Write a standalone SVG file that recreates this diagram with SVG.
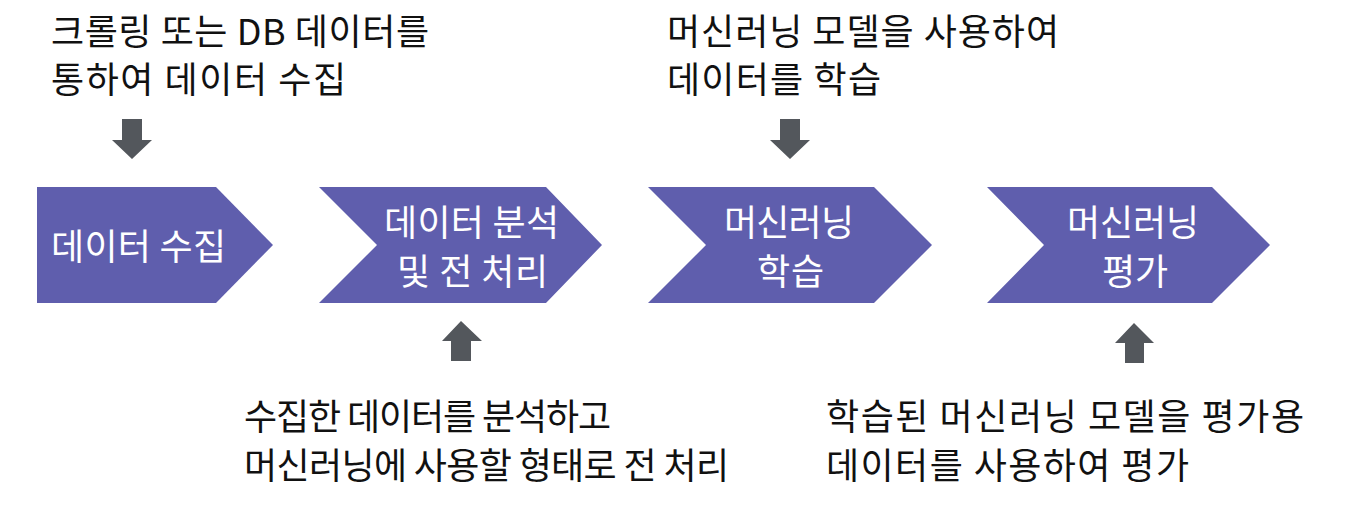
<svg xmlns="http://www.w3.org/2000/svg" width="1350" height="510" viewBox="0 0 1350 510">
<style>
.step{fill:#5F5EAD;}
.arr{fill:#53575C;}
text{font-family:"Noto Sans CJK KR","Noto Sans",sans-serif;font-size:36px;}
.lbl{fill:#111111;}
.in{fill:#FFFFFF;text-anchor:middle;}
</style>
<rect width="1350" height="510" fill="#FFFFFF"/>
<g id="node-collect">
<polygon class="step" points="37,187 216,187 273,245 216,303 37,303"/>
<text class="in" x="138.5" y="260" textLength="175" lengthAdjust="spacing">데이터 수집</text>
</g>
<g id="node-preprocess">
<polygon class="step" points="319,187 546,187 602,245 546,303 319,303 377,245"/>
<text class="in" x="471.5" y="236" textLength="175" lengthAdjust="spacing">데이터 분석</text>
<text class="in" x="472.5" y="285" textLength="151" lengthAdjust="spacing">및 전 처리</text>
</g>
<g id="node-train">
<polygon class="step" points="648,187 874,187 932,245 874,303 648,303 706,245"/>
<text class="in" x="789" y="236" textLength="130" lengthAdjust="spacing">머신러닝</text>
<text class="in" x="790.5" y="285" textLength="67" lengthAdjust="spacing">학습</text>
</g>
<g id="node-eval">
<polygon class="step" points="987,187 1212,187 1270,245 1212,303 987,303 1044,245"/>
<text class="in" x="1133" y="236" textLength="132" lengthAdjust="spacing">머신러닝</text>
<text class="in" x="1135" y="285" textLength="66" lengthAdjust="spacing">평가</text>
</g>
<g id="label-collect">
<text class="lbl" x="51" y="45" textLength="378" lengthAdjust="spacing">크롤링 또는 DB 데이터를</text>
<text class="lbl" x="51" y="93" textLength="295" lengthAdjust="spacing">통하여 데이터 수집</text>
</g>
<g id="label-preprocess">
<text class="lbl" x="244" y="430" textLength="367" lengthAdjust="spacing">수집한 데이터를 분석하고</text>
<text class="lbl" x="244" y="479" textLength="485" lengthAdjust="spacing">머신러닝에 사용할 형태로 전 처리</text>
</g>
<g id="label-train">
<text class="lbl" x="667" y="45" textLength="392" lengthAdjust="spacing">머신러닝 모델을 사용하여</text>
<text class="lbl" x="667" y="93" textLength="214" lengthAdjust="spacing">데이터를 학습</text>
</g>
<g id="label-eval">
<text class="lbl" x="826" y="430" textLength="478" lengthAdjust="spacing">학습된 머신러닝 모델을 평가용</text>
<text class="lbl" x="826" y="479" textLength="363" lengthAdjust="spacing">데이터를 사용하여 평가</text>
</g>
<g id="connectors">
<polygon class="arr" points="122,119 142,119 142,140 152,140 132,159 112,140 122,140"/>
<polygon class="arr" points="461,321 482,341 471,341 471,361 451,361 451,341 442,341"/>
<polygon class="arr" points="780,119 800,119 800,140 810,140 790,159 770,140 780,140"/>
<polygon class="arr" points="1134,323 1154,343 1144,343 1144,363 1125,363 1125,343 1115,343"/>
</g>
</svg>
